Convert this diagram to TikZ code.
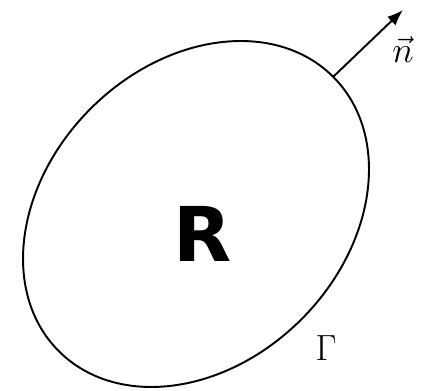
\documentclass[tikz,border=0pt]{standalone}
\usepackage{fontspec}
\newfontfamily\regionfont{DejaVu Sans}
\usepackage{amsmath,amssymb}
\usepackage{tikz}
\usetikzlibrary{arrows.meta,positioning,shapes.geometric}

\begin{document}
\begin{tikzpicture}[
  boundary/.style={draw=black,ellipse,line width=1.1pt,inner sep=0pt,outer sep=0pt,minimum width=7.76cm,minimum height=5.96cm,rotate=45},
  nvec/.style={-{Latex[length=3.2mm,width=2.4mm]},draw=black,line width=1.1pt}
]
\useasboundingbox (0,0) rectangle (8.44,7.8);
\node[boundary] (reg) at (3.92,3.52) {};
\node[font=\regionfont\bfseries\fontsize{43}{43}\selectfont] (lbl) at (4.06,3.12) {R};
\coordinate (ntip) at (8.06,7.6);
\draw[nvec] (reg.east) -- (ntip);
\node[font=\fontsize{20}{24}\selectfont] (nlbl) at (8.06,6.8) {$\vec{n}$};
\node[font=\fontsize{22}{26}\selectfont] (gam) at (6.52,0.84) {$\Gamma$};
\end{tikzpicture}
\end{document}
